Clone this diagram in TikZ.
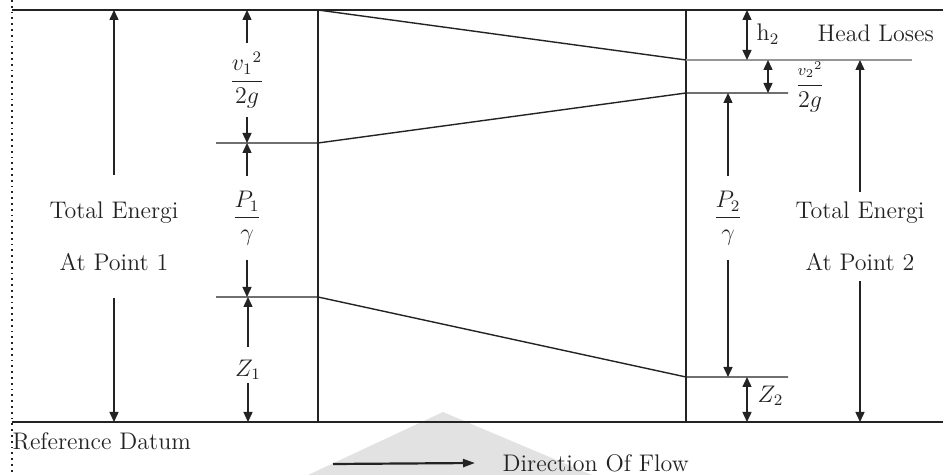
\documentclass[tikz,border=0pt]{standalone}
\usepackage{xcolor}
\usepackage{amsmath}
\usepackage{tikz}
\usetikzlibrary{arrows.meta}
\definecolor{inkgray}{RGB}{35,35,35}
\definecolor{energygray}{RGB}{150,150,150}
\definecolor{markgray}{RGB}{226,226,226}

\begin{document}
\begin{tikzpicture}[x=0.5pt, y=-0.5pt, line width=0.7pt, color=inkgray,
  every node/.style={font=\fontsize{12}{14}\selectfont, inner sep=1pt, text=inkgray},
  tip/.style={-{Triangle[length=5pt,width=4.5pt]}},
  twoway/.style={{Triangle[length=5pt,width=4.5pt]}-{Triangle[length=5pt,width=4.5pt]}}]
\useasboundingbox (0,0) rectangle (943,475);
\fill[markgray] (308,475) -- (443,412) -- (592,475) -- cycle;
\draw[dotted, line width=0.9pt] (12,0) -- (12,475);
\draw (12,10) -- (943,10);
\draw (12,422) -- (943,422);
\draw (318,10) -- (318,422);
\draw (686,10) -- (686,422);
% energy, grade and pipe lines
\draw (318,10) -- (686,60);
\draw[energygray] (686,60) -- (912,60);
\draw (216,143) -- (318,143) -- (686,93) -- (788,93);
\draw (216,297) -- (318,297) -- (686,377) -- (788,377);
\coordinate (egl1) at (0,10);
\coordinate (hgl1) at (0,143);
\coordinate (pipe1) at (0,297);
\coordinate (egl2) at (0,60);
\coordinate (hgl2) at (0,93);
\coordinate (pipe2) at (0,377);
\coordinate (datum) at (0,422);
% point 1
\node (te1) at (114,213) {Total Energi};
\node (ap1) at (114,262) {At Point 1};
\draw[tip, shorten <=12.5pt] (te1) -- (te1 |- egl1);
\draw[tip, shorten <=12.5pt] (ap1) -- (ap1 |- datum);
\node (vel1) at (247,80) {$\dfrac{{v_1}^{2}}{2g}$};
\draw[tip, shorten <=3pt] (vel1) -- (vel1 |- egl1);
\draw[tip, shorten <=3pt] (vel1) -- (vel1 |- hgl1);
\node (pre1) at (247,218) {$\dfrac{P_1}{\gamma}$};
\draw[tip, shorten <=6pt] (pre1) -- (pre1 |- hgl1);
\draw[tip, shorten <=6pt] (pre1) -- (pre1 |- pipe1);
\node (z1) at (248,370) {$Z_1$};
\draw[tip, shorten <=5pt] (z1) -- (z1 |- pipe1);
\draw[tip, shorten <=0pt] (z1) -- (z1 |- datum);
% point 2
\draw[twoway] (747,10) -- (747,60);
\node[anchor=west] (h2) at (754,34) {h$_2$};
\node[anchor=west] (loss) at (815,33) {Head Loses};
\draw[twoway] (768,60) -- (768,93);
\node (vel2) at (810,87) {$\dfrac{\scriptstyle {v_2}^{2}}{2g}$};
\node (pre2) at (728,218) {$\dfrac{P_2}{\gamma}$};
\draw[tip, shorten <=6pt] (pre2) -- (pre2 |- hgl2);
\draw[tip, shorten <=6pt] (pre2) -- (pre2 |- pipe2);
\draw[twoway] (747,377) -- (747,422);
\node[anchor=west] (z2) at (755,396) {$Z_2$};
\node (te2) at (860,213) {Total Energi};
\node (ap2) at (860,262) {At Point 2};
\draw[tip, shorten <=4pt] (te2) -- (te2 |- egl2);
\draw[tip, shorten <=4pt] (ap2) -- (ap2 |- datum);
% datum and flow
\node[anchor=west, inner sep=0pt] (ref) at (12,441) {Reference Datum};
\node[anchor=west] (flow) at (500,463) {Direction Of Flow};
\coordinate (flowstart) at (333,464);
\draw[-{Triangle[length=6pt,width=4pt]}, line width=1.1pt] (flowstart) -- (flow.west -| 475,0);
\end{tikzpicture}
\end{document}
